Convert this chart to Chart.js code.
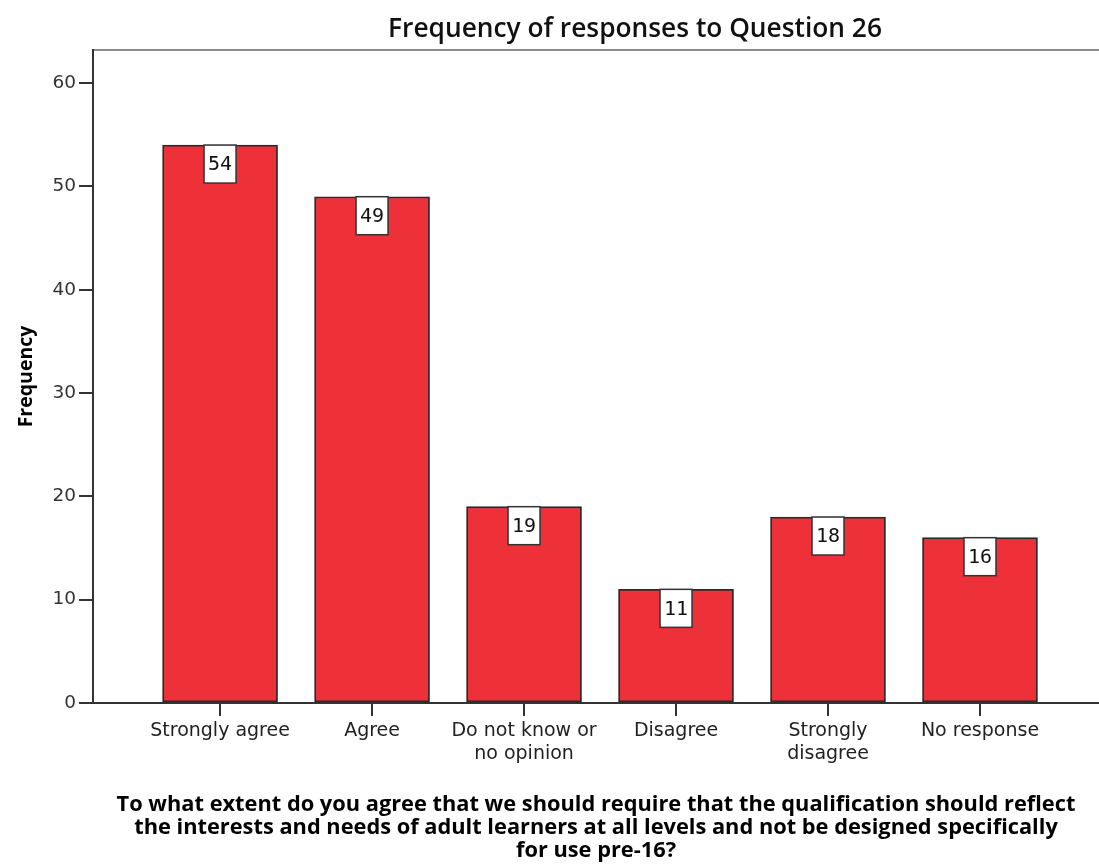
<!DOCTYPE html>
<html><head><meta charset="utf-8">
<script src="https://cdn.jsdelivr.net/npm/chart.js@4/dist/chart.umd.min.js"></script>
<style>
html,body{margin:0;padding:0;background:#fff;}
#wrap{position:relative;width:1099px;height:866px;}
#title{position:absolute;left:0;top:11px;width:1270px;text-align:center;font:600 26.3px 'Open Sans';line-height:32px;color:#111;}
</style></head><body>
<div id="wrap"><canvas id="c"></canvas><div id="title"></div></div>
<script>
const categories = [['Strongly agree'], ['Agree'], ['Do not know or', 'no opinion'], ['Disagree'], ['Strongly', 'disagree'], ['No response']];
const frequencies = [54, 49, 19, 11, 18, 16];
const yTicks = [0, 10, 20, 30, 40, 50, 60];
const chartTitle = 'Frequency of responses to Question 26';
const xTitle = ['To what extent do you agree that we should require that the qualification should reflect',
                'the interests and needs of adult learners at all levels and not be designed specifically',
                'for use pre-16?'];
const yTitle = 'Frequency';

document.getElementById('title').textContent = chartTitle;

const valueBoxes = {
  id: 'valueBoxes',
  afterDatasetsDraw(chart) {
    const ctx = chart.ctx;
    const meta = chart.getDatasetMeta(0);
    ctx.save();
    ctx.font = '20px "DejaVu Sans Mono", monospace';
    meta.data.forEach((bar, i) => {
      const w = 32, h = 38;
      const x = bar.x - w / 2, y = bar.y;
      ctx.fillStyle = '#fff';
      ctx.fillRect(x, y, w, h);
      ctx.lineWidth = 1.5;
      ctx.strokeStyle = '#333';
      ctx.strokeRect(x, y, w, h);
      ctx.fillStyle = '#111';
      ctx.textAlign = 'center';
      ctx.textBaseline = 'middle';
      ctx.fillText(String(frequencies[i]), bar.x, y + h / 2 + 1);
    });
    ctx.restore();
  }
};

new Chart(document.getElementById('c'), {
  type: 'bar',
  data: {
    datasets: [{
      data: frequencies.map((v, i) => ({x: i, y: v})),
      backgroundColor: '#ee3039',
      borderColor: '#2a2a2a',
      borderWidth: 1.8,
      borderSkipped: false,
      barThickness: 115
    }]
  },
  options: {
    responsive: true,
    maintainAspectRatio: false,
    animation: false,
    layout: {padding: {top: 50, left: 0, right: 0, bottom: 0}},
    plugins: {legend: {display: false}, tooltip: {enabled: false}, title: {display: false}},
    scales: {
      x: {
        type: 'linear', min: -0.836, max: 5.783, offset: false,
        afterBuildTicks: s => { s.ticks = categories.map((_, i) => ({value: i})); },
        afterFit: s => { s.height = 163; },
        grid: {offset: false, drawOnChartArea: false, drawTicks: true, tickLength: 13, color: '#333', lineWidth: 2},
        border: {color: '#333', width: 2},
        ticks: {
          callback: v => categories[v],
          font: {family: "'DejaVu Sans'", size: 19, lineHeight: 1.22},
          color: '#222', padding: 3, maxRotation: 0, autoSkip: false
        },
        title: {display: true, text: xTitle, color: '#000',
          font: {family: "'Open Sans'", weight: 'bold', size: 21.8, lineHeight: 23 / 21.8},
          padding: {top: 0, bottom: 3.5}}
      },
      x2: {
        type: 'linear', position: 'top', min: 0, max: 1, display: true,
        afterFit: s => { s.height = 0; },
        grid: {display: false, drawTicks: false},
        ticks: {display: false},
        border: {display: true, color: '#8a8a8a', width: 2}
      },
      y: {
        min: 0, max: 63.2,
        afterBuildTicks: s => { s.ticks = yTicks.map(v => ({value: v})); },
        afterFit: s => { s.width = 93; },
        grid: {drawOnChartArea: false, tickLength: 14, color: '#333', lineWidth: 2},
        border: {color: '#333', width: 2},
        ticks: {font: {family: "'DejaVu Sans'", size: 18.5}, color: '#333', padding: 3},
        title: {display: true, text: yTitle, color: '#000',
          font: {family: "'Open Sans'", weight: 'bold', size: 19.5},
          padding: {top: 15, bottom: 0}}
      }
    }
  },
  plugins: [valueBoxes]
});
</script>
</body></html>
